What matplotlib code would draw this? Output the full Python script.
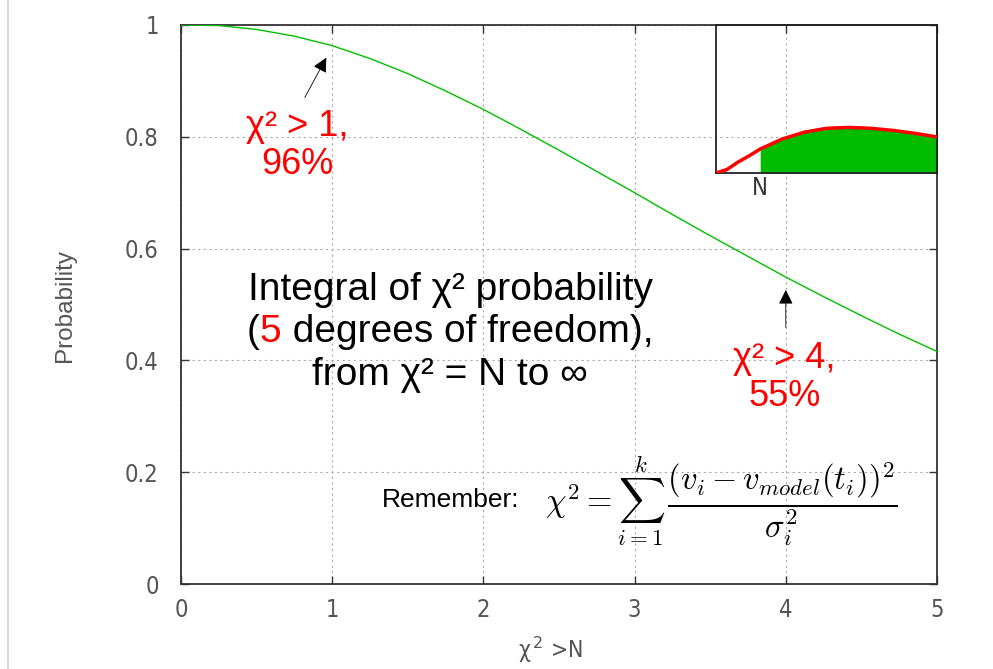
import matplotlib
matplotlib.use('Agg')
import matplotlib.pyplot as plt
from matplotlib.lines import Line2D
from matplotlib.offsetbox import TextArea, HPacker, VPacker, AnnotationBbox

plt.rcParams['font.family'] = ['Liberation Sans', 'DejaVu Sans']

# probabilité cumulée
chi_n = [0, 0.25, 0.5, 0.75, 1, 1.25, 1.5, 1.75, 2, 2.25, 2.5,
         2.75, 3, 3.25, 3.5, 3.75, 4, 4.25, 4.5, 4.75, 5]
prob = [1.0, 0.999, 0.992, 0.980, 0.963, 0.940, 0.913, 0.882, 0.849, 0.813, 0.776,
        0.738, 0.700, 0.661, 0.623, 0.586, 0.549, 0.514, 0.480, 0.447, 0.416]

# densité dans l'encart
pdf_x = [0, 0.25, 0.5, 0.75, 1, 1.5, 2, 2.5, 3, 3.5, 4, 4.5, 5]
pdf_y = [0, 0.012, 0.037, 0.058, 0.081, 0.115, 0.138, 0.151, 0.154, 0.151, 0.144, 0.134, 0.122]
n_cut = 1

xticks = [0, 1, 2, 3, 4, 5]
yticks = [0, 0.2, 0.4, 0.6, 0.8, 1]
ytick_labels = ['0', '0.2', '0.4', '0.6', '0.8', '1']

tick_font = dict(family='DejaVu Sans', stretch='condensed', size=17, color='#555555')

fig = plt.figure(figsize=(9.93, 6.69), dpi=100)
ax = fig.add_axes([181/993, 1-584/669, 756/993, 559/669])

ax.plot(chi_n, prob, color='#00c000', lw=1.0, zorder=3)

ax.set_xlim(0, 5)
ax.set_ylim(0, 1)
ax.set_xticks(xticks)
ax.set_yticks(yticks)
ax.set_xticklabels([str(t) for t in xticks], fontdict=tick_font)
ax.set_yticklabels(ytick_labels, fontdict=tick_font)
ax.tick_params(direction='in', length=6, width=1, top=True, right=True, color='#333333')
ax.tick_params(axis='x', pad=10)
ax.tick_params(axis='y', pad=16)
ax.grid(True, color='#aaaaaa', linestyle=(0, (2, 3)), lw=0.8)
for s in ax.spines.values():
    s.set_color('#333333')
    s.set_linewidth(1.3)

fig.text(65/993, 1-305/669, 'Probability', rotation=90, ha='center', va='center',
         fontsize=17.5, color='#555555')
fig.text(550/993, 1-650/669, 'χ$^{\\,2}$ >N', ha='center', va='center',
         fontsize=16.5, color='#555555', family='DejaVu Sans', stretch='condensed')

# bordure gauche
fig.add_artist(Line2D([8/993, 8/993], [0, 1], color='#d8d8d8', lw=1.5))

# flèches et annotations
ax.annotate('', xy=(0.97, 0.946), xytext=(0.81, 0.866),
            arrowprops=dict(arrowstyle='-|>', color='black', lw=0.6, mutation_scale=22))
ax.annotate('', xy=(4.0, 0.531), xytext=(4.0, 0.454),
            arrowprops=dict(arrowstyle='-|>', color='black', lw=0.6, mutation_scale=22))
ax.text(0.77, 0.785, 'χ² > 1,\n96%', color='red', fontsize=26, ha='center', va='center',
        multialignment='center', linespacing=1.1)
ax.text(3.99, 0.37, 'χ² > 4,\n55%', color='red', fontsize=26, ha='center', va='center',
        multialignment='center', linespacing=1.1)

# texte central
tp = dict(fontsize=28, color='black')
line1 = TextArea('Integral of χ² probability', textprops=tp)
line2 = HPacker(children=[TextArea('(', textprops=tp),
                          TextArea('5', textprops=dict(fontsize=28, color='red')),
                          TextArea(' degrees of freedom),', textprops=tp)],
                align='baseline', pad=0, sep=0)
line3 = TextArea('from χ² = N to ∞', textprops=tp)
box = VPacker(children=[line1, line2, line3], align='center', pad=0, sep=5)
ax.add_artist(AnnotationBbox(box, (1.78, 0.45), xycoords='data', frameon=False,
                             box_alignment=(0.5, 0.5)))

ax.text(1.33, 0.15, 'Remember:', fontsize=19, ha='left', va='center')
ax.text(2.41, 0.15, r'$\chi^2 = \sum_{i=1}^{k}\,\dfrac{(v_i - v_{model}(t_i))^2}{\sigma_i^2}$',
        fontsize=23.5, ha='left', va='center', math_fontfamily='cm')

# encart
ins = fig.add_axes([716/993, 1-173/669, 221/993, 148/669])
ins.patch.set_alpha(0)
ins.plot(pdf_x, pdf_y, color='red', lw=2.5, zorder=3)
fx = [x for x in pdf_x if x >= n_cut]
fy = [y for x, y in zip(pdf_x, pdf_y) if x >= n_cut]
ins.fill_between(fx, fy, 0, color='#00bb00', lw=0, zorder=2)
ins.set_xlim(0, 5)
ins.set_ylim(0, 0.5)
ins.set_xticks([])
ins.set_yticks([])
for s in ins.spines.values():
    s.set_color('#222222')
    s.set_linewidth(1.3)
ins.text(n_cut, -0.01, 'N', ha='center', va='top', fontsize=17, color='#333333',
         family='DejaVu Sans', stretch='condensed')

fig.savefig('out.png', dpi=100)
